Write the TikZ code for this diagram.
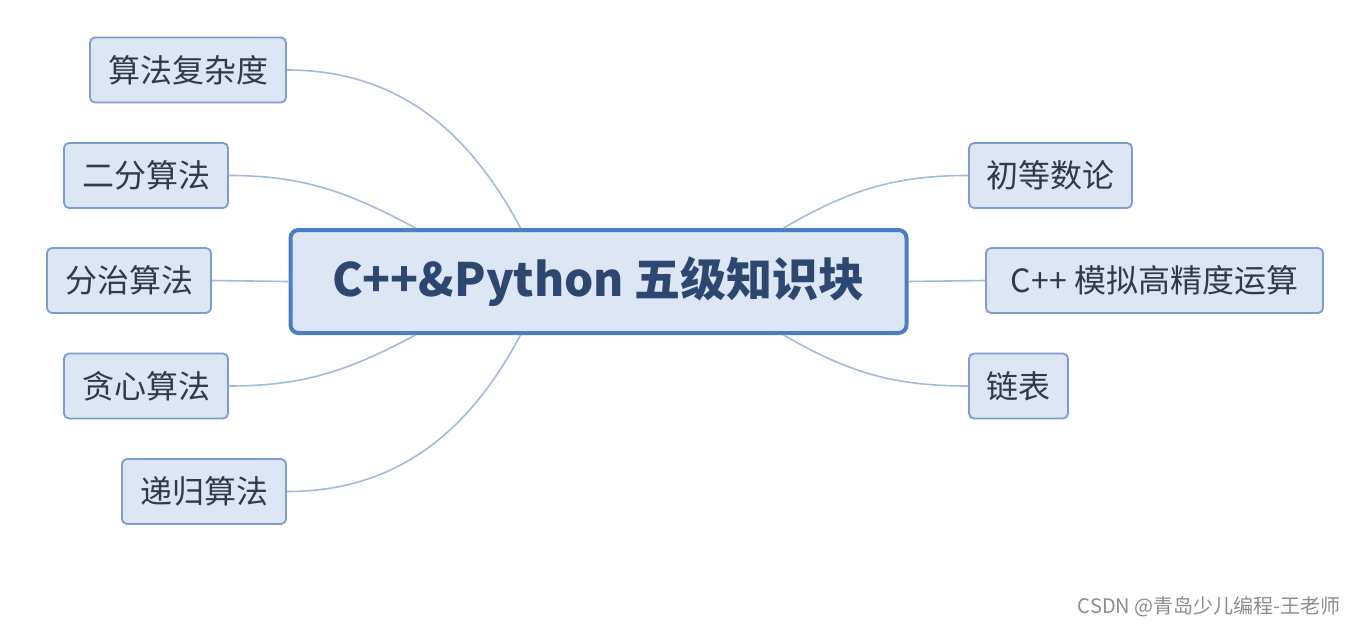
\documentclass[tikz,border=0pt]{standalone}
\usepackage{fontspec}
\setmainfont{Noto Sans CJK SC}
\usepackage{tikz}
\usetikzlibrary{positioning}
\definecolor{boxfill}{HTML}{DCE6F4}
\definecolor{topicline}{HTML}{4A7EC2}
\definecolor{topictext}{HTML}{2C4770}
\definecolor{subline}{HTML}{7E9DCF}
\definecolor{subtext}{HTML}{2F3A4E}
\definecolor{branchline}{HTML}{A5B9D9}
\tikzset{
  topic/.style={draw=topicline,fill=boxfill,line width=2pt,rounded corners=4pt,
    minimum width=308pt,minimum height=51.5pt,text=topictext,
    font=\fontsize{23}{26}\selectfont\bfseries},
  sub/.style={draw=subline,fill=boxfill,line width=0.9pt,rounded corners=2.5pt,
    minimum height=32.5pt,inner xsep=2pt,text=subtext,
    font=\fontsize{16}{18}\selectfont},
  branch/.style={draw=branchline,line width=0.8pt}
}

\begin{document}
\begin{tikzpicture}[x=0.5pt,y=0.5pt]
  \useasboundingbox (0,0) rectangle (1358,-627);
  % central topic
  \node[topic] (c) at (598.5,-281.5) {C++\&Python 五级知识块};
  % subtopics, left side
  \foreach \nm/\x/\y/\w/\txt in {l1/188/70/98/算法复杂度,l2/146/175.5/82/二分算法,
      l3/129/280.5/82/分治算法,l4/146/386/82/贪心算法,l5/204/491.5/82/递归算法} {
    \node[sub,minimum width=\w pt] (\nm) at (\x,-\y) {\txt};
  }
  % subtopics, right side
  \foreach \nm/\x/\y/\w/\txt in {r1/1050.5/175.5/81.5/初等数论,
      r2/1154.5/280.5/168.5/C++ 模拟高精度运算,r3/1018.5/386/49.5/链表} {
    \node[sub,minimum width=\w pt] (\nm) at (\x,-\y) {\txt};
  }
  % branches
  \draw[branch] (l1.east) to[out=0,in=118] ([xshift=-39pt]c.north);
  \draw[branch] (l2.east) to[out=0,in=152] ([xshift=-91.5pt]c.north);
  \draw[branch] (l3.east) -- (c.west);
  \draw[branch] (l4.east) to[out=0,in=-152] ([xshift=-91.5pt]c.south);
  \draw[branch] (l5.east) to[out=0,in=-118] ([xshift=-39pt]c.south);
  \draw[branch] (r1.west) to[out=180,in=30] ([xshift=92.5pt]c.north);
  \draw[branch] (r2.west) -- (c.east);
  \draw[branch] (r3.west) to[out=180,in=-30] ([xshift=92.5pt]c.south);
  % watermark
  \node[anchor=east,text=black!45,font=\fontsize{10}{12}\selectfont,inner sep=0pt]
    (wm) at (1341,-607) {CSDN @青岛少儿编程-王老师};
\end{tikzpicture}
\end{document}
